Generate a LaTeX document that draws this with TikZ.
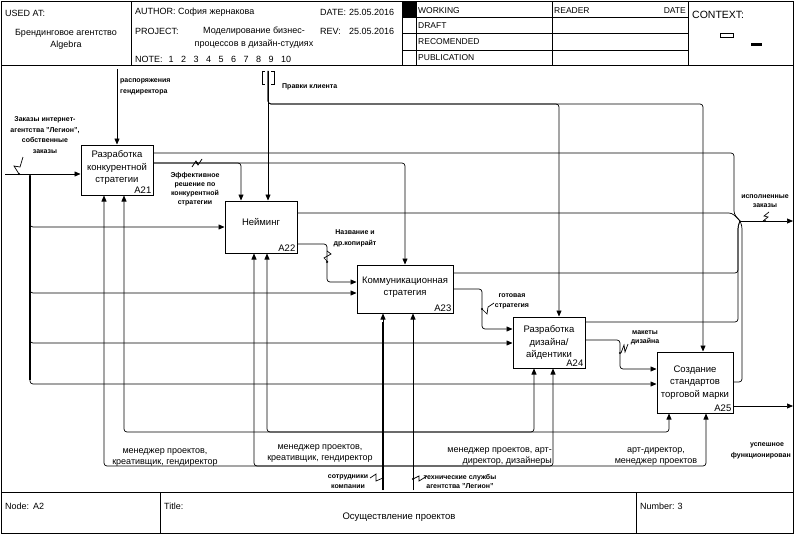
\documentclass[tikz,border=0pt]{standalone}
\usepackage{fontspec}
\setmainfont{Liberation Sans}
\usetikzlibrary{arrows.meta,calc}
\begin{document}
\begin{tikzpicture}[x=1pt,y=-1pt,
 frame/.style={line width=0.8pt},
 box/.style={draw, line width=1pt, align=center, inner sep=1.5pt, font=\fontsize{9.5}{12.5}\selectfont},
 num/.style={anchor=south east, inner sep=2pt, font=\fontsize{9.5}{11}\selectfont},
 conn/.style={line width=0.7pt, rounded corners=3pt},
 arr/.style={conn, -{Triangle[length=6pt,width=5pt]}},
 bus/.style={line width=2pt},
 lbl/.style={align=center, inner sep=0pt, font=\fontsize{7}{9.5}\selectfont\bfseries},
 mlbl/.style={align=center, inner sep=0pt, font=\fontsize{9}{11.5}\selectfont},
 hdr/.style={anchor=west, inner sep=0pt, font=\fontsize{9}{13}\selectfont},
 st/.style={anchor=west, inner sep=0pt, font=\fontsize{8.5}{10}\selectfont},
 sq/.style={line width=0.7pt},
]
\useasboundingbox (0,0) rectangle (795,535);

% ---------- frame, header, footer ----------
\draw[frame] (1.5,1.5) rectangle (793.5,533.5);
\draw[frame] (1.5,65) -- (793.5,65);
\foreach \xx in {131,402,416,552,688} \draw[frame] (\xx,1.5) -- (\xx,65);
\foreach \yy in {17,33,50} \draw[frame] (402,\yy) -- (688,\yy);
\fill (402,1.5) rectangle (416,17);
\draw[frame] (1.5,492) -- (793.5,492);
\draw[frame] (160,492) -- (160,533.5);
\draw[frame] (636,492) -- (636,533.5);

\node[hdr] (hUsed) at (5,13) {USED AT:};
\node[hdr, anchor=center, align=center, font=\fontsize{9}{12}\selectfont] (hOrg) at (66,39) {Брендинговое агентство\\Algebra};
\node[hdr] (hAuth) at (135,12) {AUTHOR: София жернакова};
\node[hdr] (hDate) at (320,12) {\makebox[29pt][l]{DATE:}25.05.2016};
\node[hdr] (hProj) at (135,31) {PROJECT:};
\node[hdr, anchor=center, align=center] (hPn) at (254,38) {Моделирование бизнес-\\процессов в дизайн-студиях};
\node[hdr] (hRev) at (320,31) {\makebox[29pt][l]{REV:}25.05.2016};
\node[hdr] (hNote) at (135,59) {NOTE:\hspace{6pt}1\hspace{7.5pt}2\hspace{7.5pt}3\hspace{7.5pt}4\hspace{7.5pt}5\hspace{7.5pt}6\hspace{7.5pt}7\hspace{7.5pt}8\hspace{7.5pt}9\hspace{7.5pt}10};

\node[st] (sW) at (418,10.5) {WORKING};
\node[st] (sD) at (418,26) {DRAFT};
\node[st] (sR) at (418,42) {RECOMENDED};
\node[st] (sP) at (418,57.5) {PUBLICATION};
\node[st] (sRd) at (554,10.5) {READER};
\node[st, anchor=east] (sDt) at (686,10.5) {DATE};
\node[hdr, font=\fontsize{10.5}{12}\selectfont] (ctx) at (692,15) {CONTEXT:};
\draw[line width=0.7pt] (720,33) rectangle (733,37.5);
\fill (751,43) rectangle (762,46.5);

\node[hdr] (fNode) at (5,506) {Node:\hspace{4pt}A2};
\node[hdr] (fTitle) at (164,506) {Title:};
\node[hdr, anchor=center, font=\fontsize{9.5}{12}\selectfont] (fT) at (399,517) {Осуществление проектов};
\node[hdr] (fNum) at (640,506) {Number:\hspace{3pt}3};

% ---------- activity boxes ----------
\node[box, minimum width=72pt, minimum height=50pt] (A21) at (117,170) {Разработка\\конкурентной\\стратегии\\[-6pt]};
\node[num] (A21n) at (A21.south east) {A21};
\node[box, minimum width=72pt, minimum height=52pt] (A22) at (261,227) {Нейминг\\[-3pt]};
\node[num] (A22n) at (A22.south east) {A22};
\node[box, minimum width=96pt, minimum height=48pt] (A23) at (405,289) {Коммуникационная\\стратегия\\[-7pt]};
\node[num] (A23n) at (A23.south east) {A23};
\node[box, minimum width=72pt, minimum height=51pt] (A24) at (549,342.5) {Разработка\\дизайна/\\айдентики};
\node[num] (A24n) at (A24.south east) {A24};
\node[box, minimum width=76pt, minimum height=61pt] (A25) at (695,382.5) {Создание\\стандартов\\торговой марки};
\node[num] (A25n) at (A25.south east) {A25};

% helper levels
\foreach \v in {153,163,213,227,244,273,282,289,293,322,329,340,343,369,382,384,406}
  \coordinate (y\v) at (0,\v);
\foreach \v in {104,124,241,254,267,534,553,669,706}
  \coordinate (x\v) at (\v,0);

% ---------- inputs from the left ----------
\coordinate (inL) at (5,174);
\coordinate (busT) at (30,174);
\draw[arr] (inL) -- (inL -| A21.west);
\draw[bus] (30,176) -- (30,380);
\draw[arr] (busT) |- (A22.west);
\draw[arr] (busT) |- (A23.west |- y293);
\draw[arr] (busT) |- (A24.west |- y343);
\draw[arr] (busT) |- (A25.west |- y384);
\draw[sq] (19,174) -- (14,166) -- (20,167) -- (23,157);
\fill (19,174) circle (1.2);
\node[lbl, font=\fontsize{7}{10.5}\selectfont\bfseries] (Lzak) at (45,135) {Заказы интернет-\\агентства "Легион",\\собственные\\заказы};

% ---------- controls ----------
\coordinate (c1) at (117,69);
\draw[arr] (c1) -- (A21.north);
\node[lbl, anchor=north west, align=left, font=\fontsize{7}{11}\selectfont\bfseries] (Lrasp) at (120,78.5) {распоряжения\\гендиректора};

\coordinate (pk) at (268,71);
\coordinate (pkA) at (559,104);
\coordinate (pkB) at (703,104);
\draw[arr] (pk) -- (pk |- A22.north);
\draw[arr] (pk) |- (pkA) -- (pkA |- A24.north);
\draw[arr] (pk) |- (pkB) -- (pkB |- A25.north);
\draw[line width=0.8pt] (265,71) -- (262,71) -- (262,84) -- (265,84);
\draw[line width=0.8pt] (271,71) -- (274,71) -- (274,84) -- (271,84);
\node[lbl, anchor=west] (Lpr) at (282,87) {Правки клиента};

% A21 outputs
\draw[arr] (A21.east |- y163) -| (A23.north);
\draw[arr] (A21.east |- y163) -| (x241 |- A22.north);
\draw[sq] (192,167) -- (196,161) -- (198,165) -- (202,159);
\fill (197,163) circle (1.2);
\node[lbl, font=\fontsize{7}{9}\selectfont\bfseries] (Leff) at (195,189.5) {Эффективное\\решение по\\конкурентной\\стратегии};

% ---------- outputs to the right junction ----------
\coordinate (jA) at (734,214);
\coordinate (jB) at (732,213);
\coordinate (jC) at (738,226);
\coordinate (jD) at (742,226);
\coordinate (J) at (740,221);
\coordinate (oR) at (793,221);
\draw[conn] (A21.east |- y153) -| (jA) -- (J);
\draw[conn] (A22.east |- y213) -- (jB) -- (J);
\draw[conn] (A23.east |- y273) -| (jC) -- (J);
\draw[conn] (A24.east |- y322) -| (jC) -- (J);
\draw[conn] (A25.east |- y382) -| (jD) -- (J);
\draw[arr] (J) -- (oR);
\draw[sq] (763,221) -- (768,217) -- (764,216) -- (769,212);
\fill (765,221) circle (1.2);
\node[lbl, font=\fontsize{7}{9}\selectfont\bfseries] (Lisp) at (765,201.5) {исполненные\\заказы};

% ---------- box to box ----------
\coordinate (nm) at (327,282);
\draw[arr] (A22.east |- y244) -| (nm) -- (A23.west |- nm);
\draw[sq] (327,251) -- (331,254) -- (324,258) -- (328,262);
\fill (327,262) circle (1.2);
\node[lbl, font=\fontsize{7}{11}\selectfont\bfseries] (Lnaz) at (355,238) {Название и\\др.копирайт};

\coordinate (gs) at (482,329);
\draw[arr] (A23.east |- y289) -| (gs) -- (A24.west |- gs);
\draw[sq] (482,309) -- (487,314) -- (488,307) -- (494,303);
\fill (482,309) circle (1.2);
\node[lbl, font=\fontsize{7}{10}\selectfont\bfseries] (Lgot) at (512,301) {готовая\\стратегия};

\coordinate (mk) at (620,369);
\draw[arr] (A24.east |- y340) -| (mk) -- (A25.west |- mk);
\draw[sq] (621,353) -- (624,345) -- (625,352) -- (628,344);
\fill (620,353) circle (1.2);
\node[lbl, font=\fontsize{7}{9}\selectfont\bfseries] (Lmak) at (645,337.5) {макеты\\дизайна};

\coordinate (o2) at (793,406);
\draw[arr] (A25.east |- o2) -- (o2);
\node[lbl] (Lusp1) at (767,445) {успешное};
\node[lbl, anchor=east] (Lusp2) at (791,456) {функционирован};

% ---------- mechanisms ----------
\coordinate (s1) at (383,490);
\coordinate (sh) at (383,466);
\draw[line width=1.2pt] (s1) -- (383,322);
\draw[arr] (s1) -- (s1 |- A23.south);
\draw[arr] (sh) -| (x104 |- A21.south);
\draw[arr] (sh) -| (x254 |- A22.south);
\draw[arr] (sh) -| (x553 |- A24.south);
\draw[arr] (sh) -| (x706 |- A25.south);
\draw[sq] (370,478) -- (376,474) -- (376,481) -- (383,478);
\fill (383,478) circle (1.2);
\node[lbl, font=\fontsize{7}{10}\selectfont\bfseries] (Lsot) at (348,482) {сотрудники\\компании};

\coordinate (t1) at (413,490);
\coordinate (th) at (413,432);
\draw[arr] (t1) -- (t1 |- A23.south);
\draw[arr] (th) -| (x124 |- A21.south);
\draw[arr] (th) -| (x267 |- A22.south);
\draw[arr] (th) -| (x534 |- A24.south);
\draw[arr] (th) -| (x669 |- A25.south);
\draw[sq] (413,479) -- (419,476) -- (419,481) -- (427,476);
\fill (413,479) circle (1.2);
\node[lbl, font=\fontsize{7}{9}\selectfont\bfseries] (Ltex) at (460,481.5) {технические службы\\агентства "Легион"};

\node[mlbl] (M1) at (165,457.5) {менеджер проектов,\\креативщик, гендиректор};
\node[mlbl] (M2) at (320,453.5) {менеджер проектов,\\креативщик, гендиректор};
\node[mlbl, anchor=east, align=right] (M3) at (552,456.5) {менеджер проектов, арт-\\директор, дизайнеры};
\node[mlbl] (M4) at (656,456.5) {арт-директор,\\менеджер проектов};
\end{tikzpicture}
\end{document}
